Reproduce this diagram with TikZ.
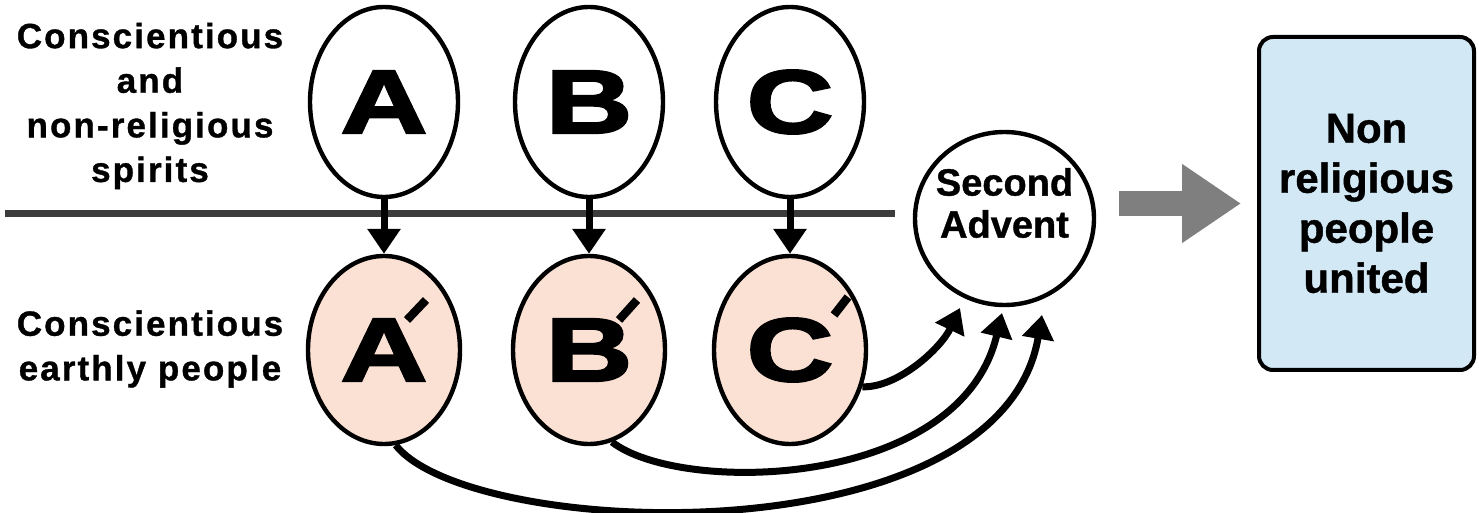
\documentclass[tikz,border=0pt]{standalone}
\usepackage{fontspec}
\setmainfont{Liberation Sans}[BoldFeatures={FakeBold=1}]
\newfontfamily\widefont{Liberation Sans}[LetterSpace=6,BoldFeatures={FakeBold=1}]
\newfontfamily\heavyfont{Liberation Sans Bold}[FakeBold=2.5]
\usepackage{graphicx}
\usetikzlibrary{arrows.meta,shapes.geometric,calc}
\definecolor{peach}{HTML}{FBE1D4}
\definecolor{boxblue}{HTML}{D2E8F4}
\definecolor{bargray}{HTML}{3C3C3C}
\definecolor{arrowgray}{HTML}{7F7F7F}
\newcommand\BigLetter[1]{\scalebox{1.33}[1]{\heavyfont\fontsize{45}{45}\selectfont #1}}
\begin{document}
\begin{tikzpicture}[x=0.5pt,y=-0.5pt,
  spirit/.style={ellipse, draw, line width=2.2pt, fill=white, minimum width=74pt, minimum height=95pt, inner sep=0pt},
  earthly/.style={spirit, fill=peach, minimum width=76pt, minimum height=94pt},
  downarrow/.style={line width=3.5pt, -{Triangle[length=12.5pt,width=16pt]}},
  curvedarrow/.style={line width=3.5pt, -{Triangle[length=12pt,width=15.5pt]}},
  primetick/.style={line width=4.2pt},
  sidelabel/.style={align=center, inner sep=0pt, font=\widefont\bfseries\fontsize{17.5}{22.3}\selectfont},
  bigarrow/.style={draw=arrowgray, line width=12.5pt, -{Triangle[length=29.5pt,width=37.5pt]}, arrowgray}
]
\useasboundingbox (0,0) rectangle (1479,513);

% divider line
\coordinate (L0) at (5,213.5);
\coordinate (L1) at (895,213.5);
\draw[bargray, line width=3.5pt] (L0) -- (L1);

% side labels
\node[sidelabel] (toplab) at (150,106) {Conscientious\\and\\non-religious\\spirits};
\node[sidelabel] (botlab) at (150,349) {Conscientious\\earthly people};

% top ellipses
\node[spirit] (A) at (384,102) {\BigLetter{A}};
\node[spirit] (B) at (589,102) {\BigLetter{B}};
\node[spirit] (C) at (790,102) {\BigLetter{C}};

% bottom ellipses
\node[earthly] (A2) at (384,350) {\BigLetter{A}};
\node[earthly] (B2) at (589,350) {\BigLetter{B}};
\node[earthly] (C2) at (790,350) {\BigLetter{C}};

% prime ticks
\draw[primetick] ($(A2)+(23,-30)$) -- ($(A2)+(42,-50)$);
\draw[primetick] ($(B2)+(30,-30)$) -- ($(B2)+(48,-50)$);
\draw[primetick] ($(C2)+(44,-35)$) -- ($(C2)+(58,-53)$);

% vertical arrows
\draw[downarrow] (A.south) -- (A2.north);
\draw[downarrow] (B.south) -- (B2.north);
\draw[downarrow] (C.south) -- (C2.north);

% second advent
\node[ellipse, draw, line width=2.2pt, minimum width=89.5pt, minimum height=86.5pt, inner sep=0pt] (S) at (1004.5,218.5) {};
\node[align=center, inner sep=0pt, font=\bfseries\fontsize{19}{21}\selectfont] (Stext) at (1004.5,203) {Second\\Advent};

% arrow tips near second advent
\coordinate (tC) at (960,308);
\coordinate (tB) at (1002,313);
\coordinate (tA) at (1042,315);

\draw[curvedarrow] (C2.-27) .. controls (898,388) and (941,348) .. (tC);
\draw[curvedarrow] (B2.-76) .. controls (680,495) and (960,490) .. (tB);
\draw[curvedarrow] (A2.-83) .. controls (470,540) and (1000,560) .. (tA);

% result box
\node[draw, line width=2pt, fill=boxblue, rounded corners=7pt, minimum width=107.5pt, minimum height=166.5pt, align=center, inner sep=0pt, font=\bfseries\fontsize{21}{25}\selectfont] (R) at (1366.5,203.5) {Non\\religious\\people\\united};

% gray arrow
\draw[bigarrow, shorten <=11.5pt, shorten >=8pt] (S.east |- R.west) -- (R.west);
\end{tikzpicture}
\end{document}
